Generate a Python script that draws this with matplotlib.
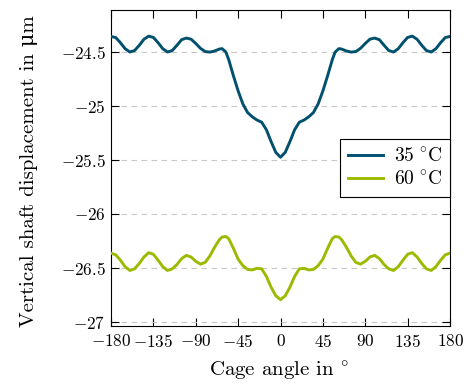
import matplotlib
matplotlib.use("Agg")
import matplotlib.pyplot as plt

plt.rcParams['font.family'] = ['cmr10', 'DejaVu Serif']
plt.rcParams['mathtext.fontset'] = 'cm'
plt.rcParams['axes.formatter.use_mathtext'] = True
plt.rcParams['axes.unicode_minus'] = True

angles_left = [-180, -175, -170, -165, -160, -155, -150, -145, -140, -135, -130,
               -125, -120, -115, -110, -105, -100, -95, -90, -85, -80, -75, -70,
               -65, -62, -58, -55, -50, -45, -40, -35, -30, -25, -20, -15, -10, -5, 0]
disp35_left = [-24.355, -24.365, -24.413, -24.469, -24.499, -24.486, -24.437, -24.381,
               -24.352, -24.364, -24.413, -24.469, -24.499, -24.486, -24.437, -24.385,
               -24.37, -24.38, -24.42, -24.465, -24.495, -24.50, -24.49, -24.472,
               -24.468, -24.50, -24.57, -24.72, -24.86, -24.98, -25.06, -25.10,
               -25.13, -25.15, -25.22, -25.33, -25.43, -25.475]
disp60_left = [-26.364, -26.38, -26.43, -26.49, -26.525, -26.51, -26.46, -26.40,
               -26.36, -26.375, -26.43, -26.49, -26.525, -26.51, -26.47, -26.415,
               -26.385, -26.40, -26.44, -26.466, -26.45, -26.39, -26.31, -26.24,
               -26.215, -26.21, -26.23, -26.32, -26.42, -26.48, -26.515, -26.52,
               -26.505, -26.51, -26.58, -26.68, -26.76, -26.795]

angles = angles_left + [-a for a in reversed(angles_left[:-1])]
disp35 = disp35_left + list(reversed(disp35_left[:-1]))
disp60 = disp60_left + list(reversed(disp60_left[:-1]))

xticks = [-180, -135, -90, -45, 0, 45, 90, 135, 180]
yticks = [-27, -26.5, -26, -25.5, -25, -24.5]
ytick_labels = [r'$-27$', r'$-26.5$', r'$-26$', r'$-25.5$', r'$-25$', r'$-24.5$']
xtick_labels = [r'$-180$', r'$-135$', r'$-90$', r'$-45$', r'$0$', r'$45$', r'$90$', r'$135$', r'$180$']
labels = [r'$35\;^{\circ}\mathrm{C}$', r'$60\;^{\circ}\mathrm{C}$']
colors = ['#00506e', '#9bbb00']

fig = plt.figure(figsize=(4.69, 3.86), dpi=100)
ax = fig.add_axes([0.2367, 0.1554, 0.7228, 0.8186])

ax.plot(angles, disp35, color=colors[0], lw=2.1, label=labels[0], zorder=3)
ax.plot(angles, disp60, color=colors[1], lw=2.1, label=labels[1], zorder=3)

ax.set_xlim(-180, 180)
ax.set_ylim(-27.04, -24.11)
ax.set_xticks(xticks)
ax.set_xticklabels(xtick_labels, fontsize=12.3)
ax.set_yticks(yticks)
ax.set_yticklabels(ytick_labels, fontsize=12.3)
ax.tick_params(direction='in', length=5.5, width=0.8, top=True, right=True)
ax.tick_params(axis='x', pad=5)
ax.tick_params(axis='y', pad=4)
ax.yaxis.grid(True, color='#c8c8c8', linestyle=(0, (5, 4)), lw=0.8)
for s in ax.spines.values():
    s.set_linewidth(0.8)

ax.set_xlabel(r'Cage angle in $^{\circ}$', fontsize=15)
ax.set_ylabel('Vertical shaft displacement in \u03bcm', fontsize=15)
ax.xaxis.set_label_coords(0.497, -0.108)
ax.yaxis.set_label_coords(-0.215, 0.489)

leg = ax.legend(loc='center right', bbox_to_anchor=(1.0, 0.5), borderaxespad=0,
                fancybox=False, edgecolor='black', framealpha=1, fontsize=14,
                handlelength=1.8, borderpad=0.4, labelspacing=0.25, handletextpad=0.6)
leg.get_frame().set_linewidth(0.8)

fig.savefig('out.png', dpi=100)
